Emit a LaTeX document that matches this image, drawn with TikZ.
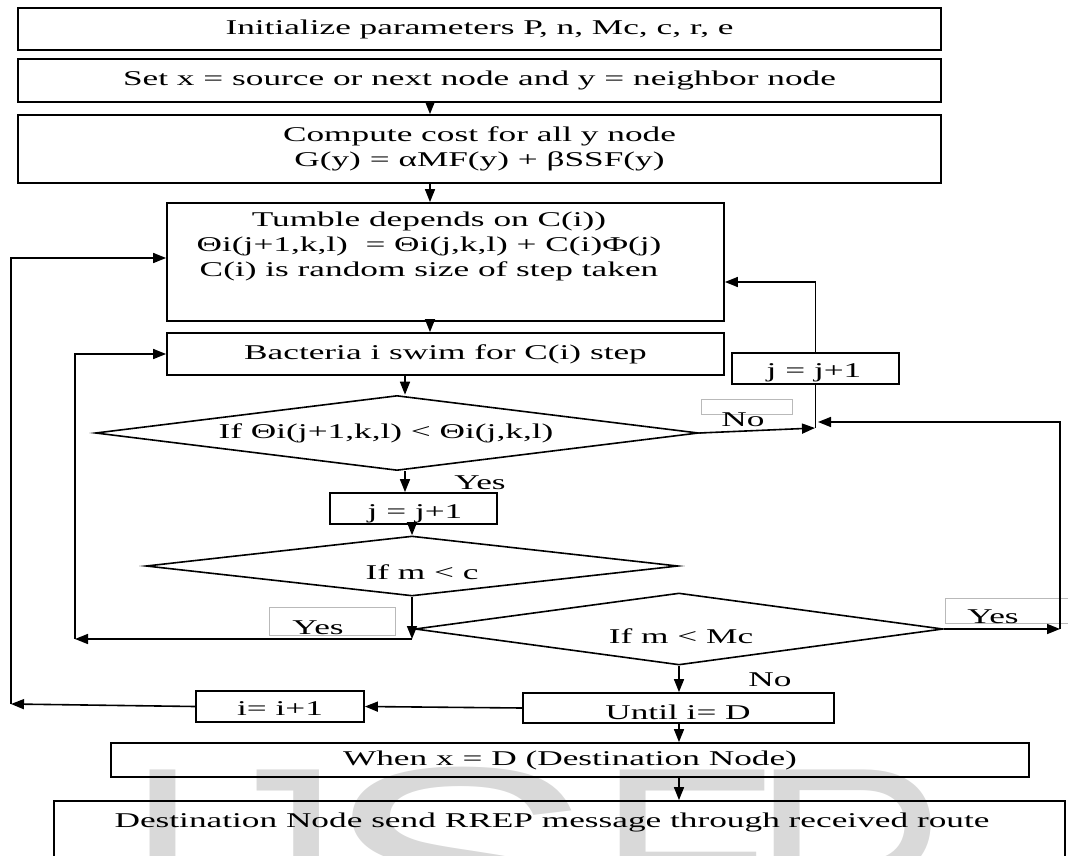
\documentclass[tikz,border=0pt]{standalone}
\usepackage{fontspec}
\usepackage{graphicx}
\setmainfont{Liberation Serif}[FakeStretch=1.68]
\newfontfamily\wmfont{Liberation Sans}
\usetikzlibrary{shapes.geometric,arrows.meta}
\begin{document}
\begin{tikzpicture}[x=1pt,y=-1pt,
  font=\fontsize{21}{25}\selectfont,
  box/.style={draw=black, line width=1.8pt, inner sep=0pt},
  dec/.style={draw=black, diamond, aspect=8, inner sep=0pt, line width=1.6pt},
  txt/.style={inner sep=0pt, align=center},
  lbl/.style={draw=gray!55, line width=0.8pt, inner sep=0pt},
  wm/.style={anchor=base west, inner sep=0pt, text=gray!30, font=\wmfont\fontsize{277}{277}\selectfont},
  ln/.style={line width=1.6pt},
  arr/.style={line width=1.6pt, -{Triangle[length=13pt,width=10pt]}}]
\useasboundingbox (0,0) rectangle (1068,856);
\clip (0,0) rectangle (1068,856);
% watermark
\node[wm] (wmIJ) at (124,960) {IJ};
\node[wm] (wmS) at (320,960) {\scalebox{1.5}[1]{S}};
\node[wm] (wmE) at (597,960) {E};
\node[wm] (wmR) at (751,960) {R};
% boxes
\node[box, minimum width=923pt, minimum height=42pt] (init) at (479.5,29) {Initialize parameters P, n, Mc, c, r, e};
\node[box, minimum width=923pt, minimum height=43pt] (set) at (479.5,80.5) {Set x = source or next node and y = neighbor node};
\node[box, align=center, minimum width=923pt, minimum height=68pt] (comp) at (479.5,149) {Compute cost for all y node\\G(y) = αMF(y) + βSSF(y)};
\node[box, minimum width=557pt, minimum height=118pt] (tumble) at (445.5,262) {};
\node[txt] (tumbletxt) at (429,246) {Tumble depends on C(i))\\Θi(j+1,k,l)~ = Θi(j,k,l) + C(i)Φ(j)\\C(i) is random size of step taken};
\node[box, minimum width=557pt, minimum height=42pt] (bact) at (445.5,354) {Bacteria i swim for C(i) step};
\node[box, minimum width=167pt, minimum height=31pt] (jr) at (815.5,368.5) {};
\node[txt] (jrtxt) at (814,373) {j = j+1};
\node[dec, minimum width=603pt, minimum height=75pt] (d1) at (397,433) {};
\node[txt] (d1txt) at (386,433) {If Θi(j+1,k,l) < Θi(j,k,l)};
\node[box, minimum width=167pt, minimum height=31pt] (jm) at (413.5,508.5) {};
\node[txt] (jmtxt) at (415,514) {j = j+1};
\node[dec, minimum width=532pt, minimum height=60pt] (d2) at (412,566) {};
\node[txt] (d2txt) at (422,572) {If m < c};
\node[dec, minimum width=528pt, minimum height=72pt] (d3) at (679,629) {};
\node[txt] (d3txt) at (681,636) {If m < Mc};
\node[box, minimum width=311pt, minimum height=30pt] (until) at (678.5,708) {};
\node[txt] (untiltxt) at (678,712) {Until i= D};
\node[box, minimum width=168pt, minimum height=31pt] (ib) at (280,706.5) {};
\node[txt] (ibtxt) at (280,709) {i= i+1};
\node[box, minimum width=918pt, minimum height=34pt] (when) at (570,760) {When x = D (Destination Node)};
\node[box, minimum width=1011pt, minimum height=120pt] (dest) at (559.5,861) {};
\node[txt] (desttxt) at (552,822) {Destination Node send RREP message through received route};
% labels
\node[txt] (yes1) at (480,483) {Yes};
\node[lbl, minimum width=91pt, minimum height=15pt] (nobox) at (746.5,406.5) {};
\node[txt] (no1) at (743,420) {No};
\node[lbl, minimum width=126pt, minimum height=28pt] (yesbox1) at (332,621) {};
\node[txt] (yes2) at (318,628) {Yes};
\node[lbl, minimum width=126pt, minimum height=25pt] (yesbox2) at (1008,610.5) {};
\node[txt] (yes3) at (993,617) {Yes};
\node[txt] (no2) at (770,680) {No};
% helper coordinates
\coordinate (xA) at (430,0);
\coordinate (xB) at (405,0);
\coordinate (cY) at (412,639);
\coordinate (cL1) at (75,639);
\coordinate (cN) at (815,428);
\coordinate (yT) at (0,282);
\coordinate (cR) at (1060,629);
\coordinate (cM) at (818,422);
\coordinate (cL2) at (11,704);
\coordinate (yTL) at (0,258);
% connectors
\draw[arr] (set.south -| xA) -- (comp.north -| xA);
\draw[arr] (comp.south -| xA) -- (tumble.north -| xA);
\draw[arr] (tumble.south -| xA) -- (bact.north -| xA);
\draw[arr] (bact.south -| xB) -- (d1.north -| xB);
\draw[arr] (d1.south -| xB) -- (jm.north -| xB);
\draw[arr] (jm.south -| d2.north) -- (d2.north);
\draw[arr] (d2.south) -- (cY);
\draw[arr] (cY) -- (cL1);
\draw[arr] (cL1) -- (cL1 |- bact.west) -- (bact.west);
\draw[arr] (d1.east) -- (cN);
\draw[ln] (jr.south) -- (jr.south |- cN);
\draw[arr] (jr.north) -- (jr.north |- yT) -- (tumble.east |- yT);
\draw[arr] (d3.east) -- (cR);
\draw[arr] (cR) -- (cR |- cM) -- (cM);
\draw[arr] (d3.south) -- (until.north -| d3.south);
\draw[arr] (until.west) -- (ib.east);
\draw[arr] (ib.west) -- (cL2);
\draw[arr] (cL2) -- (cL2 |- yTL) -- (tumble.west |- yTL);
\draw[arr] (until.south -| d3.south) -- (when.north -| d3.south);
\draw[arr] (when.south -| d3.south) -- (dest.north -| d3.south);
\end{tikzpicture}
\end{document}
